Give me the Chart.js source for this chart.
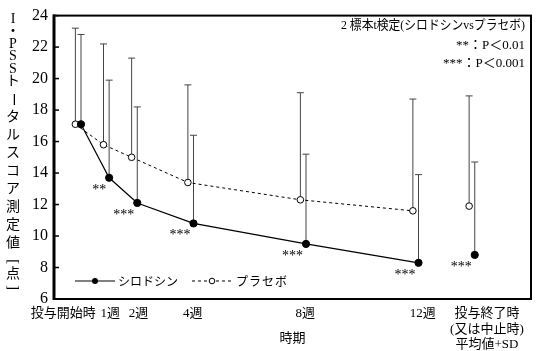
<!DOCTYPE html>
<html>
<head>
<meta charset="utf-8">
<script src="https://cdn.jsdelivr.net/npm/chart.js@4.4.1/dist/chart.umd.min.js"></script>
<style>
  html, body { margin: 0; padding: 0; background: #fff; }
  #wrap { width: 536px; height: 351px; }
</style>
</head>
<body>
<div id="wrap"><canvas id="graficoIpss" width="536" height="351"></canvas></div>
<script>
// datos (media y SD por visita)
const weeks = [0, 1, 2, 4, 8, 12, 14];
const weekLabels = ["投与開始時", "1週", "2週", "4週", "8週", "12週", ["投与終了時", "(又は中止時)", "平均値+SD"]];
const silodosinMean = [17.1, 13.7, 12.1, 10.8, 9.5, 8.3, 8.8];
const silodosinSD = [5.7, 6.2, 6.1, 5.6, 5.7, 5.6, 5.9];
const placeboMean = [17.1, 15.8, 15.0, 13.4, 12.3, 11.6, 11.9];
const placeboSD = [6.1, 6.4, 6.3, 6.2, 6.8, 7.1, 7.0];
const significance = ["", "**", "***", "***", "***", "***", "***"];
const yLabel = ["I", "・", "P", "S", "S", "ト", "ー", "タ", "ル", "ス", "コ", "ア", "測", "定", "値", "[", "点", "]"];

const SERIF = '"Liberation Serif", "Noto Sans CJK JP", serif';
const shift = 0.1; // separación entre grupos
const labelShift = [-15, 4, 4, 2, 2, 7, 15];
const lastIdx = weeks.length - 1;

const extras = {
  id: "extras",
  beforeDatasetsDraw(chart) {
    const { ctx } = chart;
    const x = chart.scales.x, y = chart.scales.y;
    ctx.save();
    ctx.strokeStyle = "#444";
    ctx.lineWidth = 1;
    const bar = (w, m, sd) => {
      const px = x.getPixelForValue(w);
      const p0 = y.getPixelForValue(m), p1 = y.getPixelForValue(m + sd);
      ctx.beginPath();
      ctx.moveTo(px, p0); ctx.lineTo(px, p1);
      ctx.moveTo(px - 3.5, p1); ctx.lineTo(px + 3.5, p1);
      ctx.stroke();
    };
    weeks.forEach((w, i) => {
      bar(w - shift, placeboMean[i], placeboSD[i]);
      bar(w + shift, silodosinMean[i], silodosinSD[i]);
    });
    ctx.restore();
  },
  afterDraw(chart) {
    const { ctx, chartArea: a } = chart;
    const x = chart.scales.x, y = chart.scales.y;
    ctx.save();

    // marco
    ctx.strokeStyle = "#000";
    ctx.lineWidth = 2;
    ctx.strokeRect(a.left, a.top, a.right - a.left, a.bottom - a.top);
    ctx.lineWidth = 3;
    ctx.beginPath(); ctx.moveTo(a.left, a.top - 1); ctx.lineTo(a.left, a.bottom + 1); ctx.stroke();
    ctx.lineWidth = 1.5;
    y.ticks.forEach(t => {
      const py = y.getPixelForValue(t.value);
      ctx.beginPath(); ctx.moveTo(a.left, py); ctx.lineTo(a.left + 5, py); ctx.stroke();
    });

    // etiquetas del eje x
    ctx.fillStyle = "#000";
    ctx.font = "13px " + SERIF;
    ctx.textAlign = "center";
    ctx.textBaseline = "middle";
    weeks.forEach((w, i) => {
      const px = x.getPixelForValue(w) + labelShift[i];
      const lines = [].concat(weekLabels[i]);
      lines.forEach((s, k) => ctx.fillText(s, px, 314 + k * 15.5));
    });
    ctx.fillText("時期", (a.left + a.right) / 2, 339);

    // título vertical del eje y
    ctx.font = "14px " + SERIF;
    let cy = 19;
    yLabel.forEach(ch => {
      const latin = /[A-Z・]/.test(ch);
      const br = ch === "[" || ch === "]";
      const adv = latin ? 12.5 : (ch === "値" ? 18 : (br || ch === "点") ? 13 : 18);
      if (ch === "ー" || br) {
        ctx.save();
        ctx.translate(13, cy);
        ctx.rotate(Math.PI / 2);
        ctx.fillText(ch, 0, 0);
        ctx.restore();
      } else {
        ctx.fillText(ch, 13, cy);
      }
      cy += adv;
    });

    // asteriscos de significación
    ctx.font = "14px " + SERIF;
    ctx.textAlign = "right";
    ctx.textBaseline = "alphabetic";
    weeks.forEach((w, i) => {
      if (!significance[i]) return;
      const px = x.getPixelForValue(w + shift), py = y.getPixelForValue(silodosinMean[i]);
      ctx.fillText(significance[i], px - 3, py + 16);
    });

    // nota de la prueba
    ctx.font = "13px " + SERIF;
    ctx.textBaseline = "middle";
    ctx.fillText("2 標本t検定(シロドシンvsプラセボ)", 525, 26, 184);
    ctx.fillText("**：P＜0.01", 525, 46);
    ctx.fillText("***：P＜0.001", 525, 64);

    // leyenda
    const ly = 281;
    ctx.lineWidth = 1;
    ctx.beginPath(); ctx.moveTo(75, ly); ctx.lineTo(115, ly); ctx.stroke();
    ctx.beginPath(); ctx.arc(95, ly, 3, 0, Math.PI * 2); ctx.fill();
    ctx.setLineDash([3, 3]);
    ctx.beginPath(); ctx.moveTo(192, ly); ctx.lineTo(232, ly); ctx.stroke();
    ctx.setLineDash([]);
    ctx.fillStyle = "#fff";
    ctx.beginPath(); ctx.arc(212, ly, 2.8, 0, Math.PI * 2); ctx.fill(); ctx.stroke();
    ctx.fillStyle = "#000";
    ctx.textAlign = "left";
    ctx.font = '12px "Noto Sans CJK JP", sans-serif';
    ctx.fillText("シロドシン", 118, ly);
    ctx.letterSpacing = "1px";
    ctx.fillText("プラセボ", 236, ly);
    ctx.letterSpacing = "0px";
    ctx.restore();
  }
};

const ctx = document.getElementById("graficoIpss").getContext("2d");

new Chart(ctx, {
  type: "line",
  data: {
    datasets: [
      {
        label: "シロドシン",
        data: weeks.map((w, i) => ({ x: w + shift, y: silodosinMean[i] })),
        borderColor: "#000",
        borderWidth: 1.2,
        pointRadius: 3.6,
        pointBackgroundColor: "#000",
        pointBorderColor: "#000",
        pointBorderWidth: 1,
        segment: { borderColor: c => c.p1DataIndex === lastIdx ? "rgba(0,0,0,0)" : "#000" }
      },
      {
        label: "プラセボ",
        data: weeks.map((w, i) => ({ x: w - shift, y: placeboMean[i] })),
        borderColor: "#000",
        borderWidth: 1,
        borderDash: [3, 3],
        pointRadius: 3.3,
        pointBackgroundColor: "#fff",
        pointBorderColor: "#000",
        pointBorderWidth: 1,
        segment: { borderColor: c => c.p1DataIndex === lastIdx ? "rgba(0,0,0,0)" : "#000" }
      }
    ]
  },
  options: {
    responsive: false,
    animation: false,
    layout: { padding: { top: 12, right: 2, left: 0, bottom: 0 } },
    plugins: { legend: { display: false }, tooltip: { enabled: false } },
    scales: {
      x: {
        type: "linear",
        min: -0.86,
        max: 16.1,
        grid: { display: false, drawTicks: false },
        border: { display: false },
        ticks: { display: false },
        afterFit: s => { s.height = 52; }
      },
      y: {
        min: 6,
        max: 24,
        ticks: { stepSize: 2, color: "#000", padding: 6, font: { family: SERIF, size: 16 } },
        grid: { display: false, drawTicks: false },
        border: { display: false },
        afterFit: s => { s.width = 54; }
      }
    }
  },
  plugins: [extras]
});
</script>
</body>
</html>
